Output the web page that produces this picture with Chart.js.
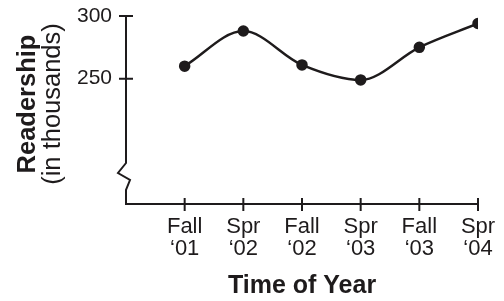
<!DOCTYPE html>
<html>
<head>
<meta charset="utf-8">
<script src="https://cdn.jsdelivr.net/npm/chart.js@4"></script>
<style>
  body { margin: 0; background: #fff; }
  canvas { display: block; }
</style>
</head>
<body>
<canvas id="myChart" width="504" height="301"></canvas>
<script>
const seasons = ['Fall', 'Spr', 'Fall', 'Spr', 'Fall', 'Spr'];
const years = ['\u201801', '\u201802', '\u201802', '\u201803', '\u201803', '\u201804'];
const readership = [260, 288, 261, 249, 275, 294];
const yTicks = [250, 300];

const ink = '#1e1b1c';
const font = '"Liberation Sans", Arial, sans-serif';

// 축선, 눈금, 축 끊김 표시, y축 제목
const axisPlugin = {
  id: 'axisPlugin',
  afterDraw(chart) {
    const ctx = chart.ctx;
    const x = chart.scales.x;
    const y = chart.scales.y;
    const ax = x.left;
    const ay = y.bottom;
    ctx.save();
    ctx.strokeStyle = ink;
    ctx.lineWidth = 2;
    ctx.lineJoin = 'miter';

    // y축 + 끊김 지그재그
    ctx.beginPath();
    ctx.moveTo(ax, y.top);
    ctx.lineTo(ax, ay - 41);
    ctx.lineTo(ax - 8, ay - 31);
    ctx.lineTo(ax + 4, ay - 24);
    ctx.lineTo(ax, ay - 14);
    ctx.lineTo(ax, ay);
    ctx.lineTo(x.right, ay);
    ctx.stroke();

    // 눈금 (축을 가로지름)
    ctx.beginPath();
    yTicks.forEach(v => {
      const py = y.getPixelForValue(v);
      ctx.moveTo(ax - 7, py);
      ctx.lineTo(ax + 7, py);
    });
    readership.forEach((_, i) => {
      const px = x.getPixelForValue(i);
      ctx.moveTo(px, ay - 6);
      ctx.lineTo(px, ay + 7);
    });
    ctx.stroke();

    // y축 제목
    const cy = (y.top + ay) / 2 - 6;
    ctx.fillStyle = ink;
    ctx.textAlign = 'center';
    ctx.textBaseline = 'middle';
    ctx.translate(0, cy);
    ctx.rotate(-Math.PI / 2);
    ctx.font = 'bold 25.5px ' + font;
    ctx.fillText('Readership', 0, 28);
    ctx.font = '25.5px ' + font;
    ctx.fillText('(in thousands)', 0, 53);
    ctx.restore();
  }
};

new Chart(document.querySelector('#myChart'), {
  type: 'line',
  data: {
    datasets: [{
      data: readership.map((v, i) => ({ x: i, y: v })),
      borderColor: ink,
      backgroundColor: ink,
      borderWidth: 2.5,
      pointRadius: 4.5,
      pointHoverRadius: 4.5,
      cubicInterpolationMode: 'monotone',
      fill: false
    }]
  },
  options: {
    responsive: false,
    animation: false,
    layout: { padding: { top: 16, right: 26, left: 0, bottom: 0 } },
    plugins: {
      legend: { display: false },
      tooltip: { enabled: false }
    },
    scales: {
      x: {
        type: 'linear',
        min: -1,
        max: 5,
        grid: { display: false },
        border: { display: false },
        afterBuildTicks: s => { s.ticks = readership.map((_, i) => ({ value: i })); },
        afterFit: s => {
          s.height = 97;
          s.paddingLeft = 0;
          s.paddingRight = 0;
        },
        ticks: {
          color: ink,
          padding: 4,
          maxRotation: 0,
          autoSkip: false,
          font: { family: font, size: 22, lineHeight: 1.0 },
          callback: v => [seasons[v], years[v]]
        },
        title: {
          display: true,
          text: 'Time of Year',
          color: ink,
          font: { family: font, size: 25, weight: 'bold' },
          padding: { top: 11, bottom: 0 }
        }
      },
      y: {
        min: 150,
        max: 300,
        grid: { display: false },
        border: { display: false },
        afterBuildTicks: s => { s.ticks = yTicks.map(v => ({ value: v })); },
        afterFit: s => {
          s.width = 126;
          s.paddingTop = 0;
          s.paddingBottom = 0;
        },
        ticks: {
          color: ink,
          padding: 6,
          font: { family: font, size: 21 }
        }
      }
    }
  },
  plugins: [axisPlugin]
});
</script>
</body>
</html>
